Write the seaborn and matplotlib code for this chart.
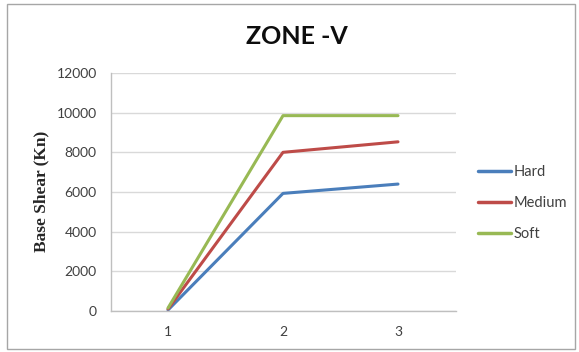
import matplotlib
matplotlib.use("Agg")
import matplotlib.pyplot as plt
import seaborn as sns
import pandas as pd
from matplotlib.patches import Rectangle

categories = ["1", "2", "3"]
hard = [50, 5930, 6400]
medium = [100, 8000, 8530]
soft = [150, 9850, 9850]
series_names = ["Hard", "Medium", "Soft"]
colors = ["#4A7EBB", "#BE4B48", "#98B954"]
y_ticks = [0, 2000, 4000, 6000, 8000, 10000, 12000]

rows = []
for name, vals in zip(series_names, [hard, medium, soft]):
    for c, v in zip(categories, vals):
        rows.append({"Category": c, "Base Shear": v, "Series": name})
df = pd.DataFrame(rows)

sns.set_theme(style="white")
plt.rcParams["font.family"] = ["Lato", "DejaVu Sans"]

W, H = 579, 352
fig = plt.figure(figsize=(W / 100, H / 100), dpi=100)
left, right, bottom, top = 110.5, 455.5, 311, 73
ax = fig.add_axes([left / W, 1 - bottom / H, (right - left) / W, (bottom - top) / H])

sns.lineplot(data=df, x="Category", y="Base Shear", hue="Series",
             hue_order=series_names, palette=colors, linewidth=2.2,
             sort=False, ax=ax, legend=True)

ax.set_xlim(-0.5, 2.5)
ax.set_ylim(0, 12000)
ax.set_yticks(y_ticks)
ax.set_yticklabels([str(t) for t in y_ticks])
ax.yaxis.grid(True, color="#D9D9D9", linewidth=1.0)
ax.set_axisbelow(True)
for s in ["top", "right"]:
    ax.spines[s].set_visible(False)
for s in ["left", "bottom"]:
    ax.spines[s].set_color("#BFBFBF")
    ax.spines[s].set_linewidth(1.0)
ax.tick_params(axis="both", length=0, labelsize=10, colors="#404040")
ax.tick_params(axis="y", pad=10)
ax.tick_params(axis="x", pad=11)
ax.set_xlabel("")
ax.set_ylabel("")
fig.text(41 / W, 1 - 191.5 / H, "Base Shear (Kn)", rotation=90,
         ha="center", va="center", fontsize=12.5, fontweight="bold",
         family=["Liberation Serif", "DejaVu Serif"], color="#262626")

leg = ax.legend(loc="center left", bbox_to_anchor=(478 / W, 1 - 203 / H),
                bbox_transform=fig.transFigure, frameon=False,
                fontsize=10.5, handlelength=2.25, handletextpad=0.2,
                labelspacing=1.15, borderpad=0, borderaxespad=0,
                labelcolor="#404040")
for line in leg.get_lines():
    line.set_linewidth(2.5)

fig.text(297 / W, 1 - 36 / H, "ZONE -V", ha="center", va="center",
         fontsize=18, fontweight="bold", color="#0D0D0D")

fig.patches.append(Rectangle((7 / W, 3 / H), 568 / W, 345 / H,
                             transform=fig.transFigure, fill=False,
                             edgecolor="#A6A6A6", linewidth=1.0))

fig.savefig("out.png", dpi=100)
